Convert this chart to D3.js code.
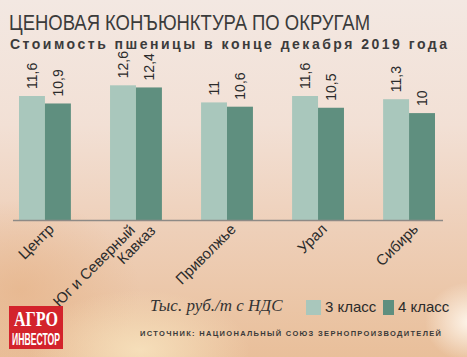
<!DOCTYPE html>
<html><head><meta charset="utf-8">
<script src="https://cdn.jsdelivr.net/npm/d3@7"></script>
<style>body{margin:0;background:#fff} svg{display:block}</style>
</head><body>
<script>
// ---- data ----
const categories = ["Центр", "Юг и Северный\nКавказ", "Приволжье", "Урал", "Сибирь"];
const seriesNames = ["3 класс", "4 класс"];
const class3 = [11.6, 12.6, 11, 11.6, 11.3];
const class4 = [10.9, 12.4, 10.6, 10.5, 10];
const title = "ЦЕНОВАЯ КОНЪЮНКТУРА ПО ОКРУГАМ";
const subtitle = "Стоимость пшеницы в конце декабря 2019 года";
const unitText = "Тыс. руб./т с НДС";
const sourceText = "ИСТОЧНИК: НАЦИОНАЛЬНЫЙ СОЮЗ ЗЕРНОПРОИЗВОДИТЕЛЕЙ";

const W = 467, H = 357;
const colors = ["#a9c7bc", "#5f8f7f"];
const narrow = "'Liberation Sans Narrow', 'Liberation Sans', Arial, sans-serif";

const svg = d3.select("body").append("svg").attr("width", W).attr("height", H);
const defs = svg.append("defs");
const lg = defs.append("linearGradient").attr("id", "bg").attr("x1", 0).attr("y1", 0).attr("x2", 0).attr("y2", 1);
[["0%", "#f3e8e2"], ["35%", "#f2e0d5"], ["65%", "#eecfb8"], ["100%", "#e9bf9a"]]
  .forEach(([o, c]) => lg.append("stop").attr("offset", o).attr("stop-color", c));
const rg1 = defs.append("radialGradient").attr("id", "glow1");
rg1.append("stop").attr("offset", "0%").attr("stop-color", "#fff8ee").attr("stop-opacity", 0.95);
rg1.append("stop").attr("offset", "100%").attr("stop-color", "#fff8ee").attr("stop-opacity", 0);
const rg2 = defs.append("radialGradient").attr("id", "glow2");
rg2.append("stop").attr("offset", "0%").attr("stop-color", "#f7e2bd").attr("stop-opacity", 0.9);
rg2.append("stop").attr("offset", "100%").attr("stop-color", "#f7e2bd").attr("stop-opacity", 0);
const rg3 = defs.append("radialGradient").attr("id", "glow3");
rg3.append("stop").attr("offset", "0%").attr("stop-color", "#e6b388").attr("stop-opacity", 0.7);
rg3.append("stop").attr("offset", "100%").attr("stop-color", "#e6b388").attr("stop-opacity", 0);

svg.append("rect").attr("width", W).attr("height", H).attr("fill", "url(#bg)");
svg.append("ellipse").attr("cx", 20).attr("cy", 290).attr("rx", 120).attr("ry", 90).attr("fill", "url(#glow3)");
svg.append("ellipse").attr("cx", 140).attr("cy", 350).attr("rx", 110).attr("ry", 60).attr("fill", "url(#glow2)");
svg.append("ellipse").attr("cx", 470).attr("cy", 322).attr("rx", 45).attr("ry", 40).attr("fill", "url(#glow1)");

// ---- title ----
svg.append("text").attr("x", 9).attr("y", 30)
  .attr("font-family", narrow).attr("font-size", 22).attr("fill", "#3b3b3b")
  .attr("textLength", 361).attr("lengthAdjust", "spacingAndGlyphs")
  .text(title);
svg.append("text").attr("x", 10).attr("y", 49)
  .attr("font-family", narrow).attr("font-weight", "bold").attr("font-size", 14).attr("fill", "#3b3b3b")
  .attr("textLength", 437).attr("lengthAdjust", "spacing")
  .text(subtitle);

// ---- scales ----
const baseY = 220;
const x = d3.scaleBand().domain(categories).range([19, 435]).paddingInner(0.43).paddingOuter(0);
const xs = d3.scaleBand().domain(seriesNames).range([0, x.bandwidth()]);
const y = d3.scaleLinear().domain([0, 13]).range([baseY, baseY - 13 * 10.69]);

const rows = categories.map((c, i) => ({ cat: c, vals: [class3[i], class4[i]] }));
const groups = svg.append("g").selectAll("g").data(rows).join("g")
  .attr("transform", d => `translate(${x(d.cat)},0)`);
groups.selectAll("rect").data(d => d.vals.map((v, j) => ({ v, s: seriesNames[j], j })))
  .join("rect")
  .attr("x", d => xs(d.s)).attr("width", xs.bandwidth())
  .attr("y", d => y(d.v)).attr("height", d => y(0) - y(d.v))
  .attr("fill", d => colors[d.j]);
groups.selectAll("text").data(d => d.vals.map((v, j) => ({ v, s: seriesNames[j], j })))
  .join("text")
  .attr("transform", d => `translate(${xs(d.s) + xs.bandwidth() / 2 + 5},${y(d.v) - 7}) rotate(-90)`)
  .attr("font-family", narrow).attr("font-size", 14).attr("fill", "#2b2b2b")
  .text(d => String(d.v).replace(".", ","));

// ---- axis ----
const axis = svg.append("g").attr("transform", `translate(0,${baseY})`)
  .call(d3.axisBottom(x).tickSize(0).tickFormat(""));
axis.select(".domain").remove();
svg.append("line").attr("x1", 13).attr("x2", 443).attr("y1", baseY + 0.5).attr("y2", baseY + 0.5)
  .attr("stroke", "#8e8a86").attr("stroke-width", 1.5);
axis.selectAll(".tick text").remove();
axis.selectAll(".tick").each(function (d) {
  const lines = d.split("\n");
  const t = d3.select(this).append("text")
    .attr("transform", `translate(${lines.length > 1 ? 0 : 10},${lines.length > 1 ? 11 : 10}) rotate(-45)`)
    .attr("text-anchor", "end")
    .attr("font-family", narrow).attr("font-size", 15).attr("fill", "#2b2b2b");
  lines.forEach((l, i) => t.append("tspan").attr("x", i * 14).attr("dy", i === 0 ? 0 : 15).text(l));
});

// ---- legend ----
svg.append("text").attr("x", 150).attr("y", 311)
  .attr("font-family", "'Liberation Serif', 'Times New Roman', serif").attr("font-style", "italic")
  .attr("font-size", 17).attr("fill", "#333").text(unitText);
const legendX = [306, 383], legendW = [15, 11];
const lgd = svg.append("g").selectAll("g").data(seriesNames).join("g");
lgd.append("rect").attr("x", (d, i) => legendX[i]).attr("y", 300).attr("width", (d, i) => legendW[i]).attr("height", 15)
  .attr("fill", (d, i) => colors[i]);
lgd.append("text").attr("x", (d, i) => legendX[i] + legendW[i] + 4).attr("y", 312)
  .attr("font-family", narrow).attr("font-size", 15).attr("fill", "#2b2b2b").text(d => d);

// ---- source ----
svg.append("text").attr("x", 140).attr("y", 336)
  .attr("font-family", narrow).attr("font-weight", "bold").attr("font-size", 7.5).attr("fill", "#3a3a3a")
  .attr("textLength", 301).attr("lengthAdjust", "spacing").text(sourceText);

// ---- logo ----
const logo = svg.append("g");
logo.append("rect").attr("x", 9).attr("y", 306).attr("width", 54).attr("height", 43).attr("fill", "#d3232b");
logo.append("text").attr("x", 36).attr("y", 326).attr("text-anchor", "middle")
  .attr("font-family", "'Liberation Serif', serif").attr("font-weight", "bold").attr("font-size", 20).attr("fill", "#fff")
  .attr("textLength", 44).attr("lengthAdjust", "spacingAndGlyphs").text("АГРО");
logo.append("text").attr("x", 36).attr("y", 345).attr("text-anchor", "middle")
  .attr("font-family", narrow).attr("font-weight", "bold").attr("font-size", 17).attr("fill", "#fff")
  .attr("textLength", 48).attr("lengthAdjust", "spacingAndGlyphs").text("ИНВЕСТОР");
</script>
</body></html>
